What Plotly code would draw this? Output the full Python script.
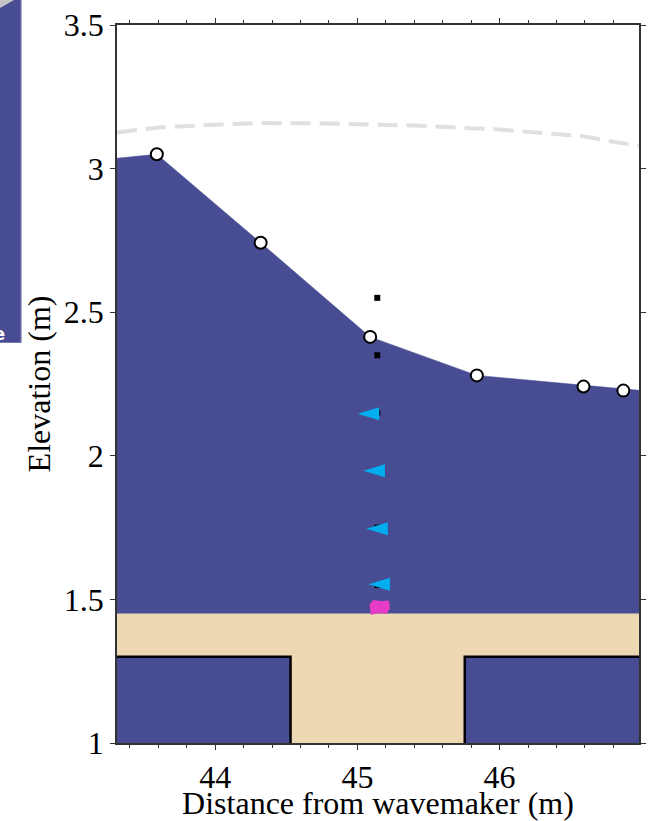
import plotly.graph_objects as go

# ---------------- data ----------------
x_range = [43.31, 46.98]
y_range = [1.0, 3.5]

# free-surface profile (water fill top)
surface_x = [43.31, 43.59, 44.32, 45.09, 45.84, 46.59, 46.98]
surface_y = [3.036, 3.05, 2.742, 2.414, 2.28, 2.245, 2.228]

# measured surface points (open circles)
circle_x = [43.59, 44.32, 45.09, 45.84, 46.59, 46.87]
circle_y = [3.05, 2.742, 2.414, 2.28, 2.241, 2.227]

# maximum envelope (dashed light grey)
envelope_x = [43.31, 43.6, 44.0, 44.3, 44.8, 45.4, 46.0, 46.4, 46.6, 46.8, 46.98]
envelope_y = [3.126, 3.143, 3.153, 3.159, 3.157, 3.150, 3.136, 3.120, 3.112, 3.093, 3.081]

# sensors (black squares)
sensor_x = [45.14, 45.14, 45.14, 45.14, 45.14, 45.14]
sensor_y = [2.55, 2.35, 2.15, 1.95, 1.75, 1.55]

# velocity probes (cyan left triangles)
probe_x = [45.08, 45.12, 45.14, 45.155]
probe_y = [2.146, 1.948, 1.746, 1.553]

# pressure sensor (magenta)
pressure_x = [45.155]
pressure_y = [1.472]

# sediment geometry
sand_top = 1.45
step_top = 1.30
trench_left = 44.53
trench_right = 45.755
bottom = 1.0

x_ticks = [44, 45, 46]
y_ticks = [1, 1.5, 2, 2.5, 3, 3.5]
y_tick_labels = ["1", "1.5", "2", "2.5", "3", "3.5"]

WATER = "#474C93"
SAND = "#EDD8B3"
CYAN = "#00AEEF"
PINK = "#E63CC6"
FONT = "Liberation Serif"

fig = go.Figure()

# water body
fig.add_trace(go.Scatter(
    x=surface_x + [x_range[1], x_range[0]],
    y=surface_y + [bottom, bottom],
    fill="toself", fillcolor=WATER, mode="lines",
    line=dict(color=WATER, width=0.5), hoverinfo="skip", showlegend=False))

# envelope
fig.add_trace(go.Scatter(
    x=envelope_x, y=envelope_y, mode="lines",
    line=dict(color="#E0E0E0", width=4, dash="20px,9px"),
    hoverinfo="skip", showlegend=False))

# sand T shape
sand_x = [x_range[0], x_range[1], x_range[1], trench_right, trench_right,
          trench_left, trench_left, x_range[0]]
sand_y = [sand_top, sand_top, step_top, step_top, bottom, bottom,
          step_top, step_top]
fig.add_trace(go.Scatter(
    x=sand_x, y=sand_y, fill="toself", fillcolor=SAND, mode="lines",
    line=dict(color=SAND, width=0.5), hoverinfo="skip", showlegend=False))

# black outlines of the trench
fig.add_trace(go.Scatter(
    x=[x_range[0], trench_left, trench_left], y=[step_top, step_top, bottom],
    mode="lines", line=dict(color="black", width=2.5),
    hoverinfo="skip", showlegend=False))
fig.add_trace(go.Scatter(
    x=[x_range[1], trench_right, trench_right], y=[step_top, step_top, bottom],
    mode="lines", line=dict(color="black", width=2.5),
    hoverinfo="skip", showlegend=False))

# circles
fig.add_trace(go.Scatter(
    x=circle_x, y=circle_y, mode="markers",
    marker=dict(symbol="circle", size=12, color="white",
                line=dict(color="black", width=2)),
    hoverinfo="skip", showlegend=False))

# sensors
fig.add_trace(go.Scatter(
    x=sensor_x, y=sensor_y, mode="markers",
    marker=dict(symbol="square", size=6, color="black"),
    hoverinfo="skip", showlegend=False))

shapes = []
# flattened triangles (pixel sized, anchored at data points)
for px, py in zip(probe_x, probe_y):
    shapes.append(dict(type="path", xref="x", yref="y",
                       xsizemode="pixel", ysizemode="pixel",
                       xanchor=px, yanchor=py,
                       path="M -11 0 L 10.5 6.5 L 10.5 -6.5 Z",
                       fillcolor=CYAN, line=dict(width=0)))
for px, py in zip(pressure_x, pressure_y):
    shapes.append(dict(type="path", xref="x", yref="y",
                       xsizemode="pixel", ysizemode="pixel",
                       xanchor=px, yanchor=py,
                       path="M -10 3 L -6 7.5 L 1 6.5 L 9.5 7 L 10.5 -1 L 7 -6.5 L -1 -5.5 L -8.5 -7.5 Z",
                       fillcolor=PINK, line=dict(width=0)))

# partial neighbouring panel at the left edge
L, W, T, H = 117, 529, 25, 723
def px2x(p):
    return (p - L) / W
def py2y(p):
    return (T + H - p) / H
shapes.append(dict(type="rect", xref="paper", yref="paper",
                   x0=px2x(-5), x1=px2x(20), y0=py2y(345), y1=py2y(-5),
                   fillcolor=WATER, line=dict(width=0), layer="above"))
shapes.append(dict(type="line", xref="paper", yref="paper",
                   x0=px2x(20), x1=px2x(20), y0=py2y(345), y1=py2y(-5),
                   line=dict(color="#A4A6D0", width=1.2), layer="above"))
shapes.append(dict(type="path", xref="paper", yref="paper",
                   path=f"M {px2x(-2)},{py2y(-2)} L {px2x(16)},{py2y(-2)} L {px2x(-2)},{py2y(8)} Z",
                   fillcolor="#C4C4C4", line=dict(width=0), layer="above"))

fig.update_layout(
    width=649, height=821,
    margin=dict(l=L, r=649 - L - W, t=T, b=821 - T - H),
    paper_bgcolor="white", plot_bgcolor="white",
    font=dict(family=FONT, size=32, color="black"),
    shapes=shapes,
    annotations=[dict(text="<b>e</b>", xref="paper", yref="paper",
                      x=px2x(-3), y=py2y(336), xanchor="center", yanchor="middle",
                      showarrow=False, font=dict(family="DejaVu Sans", size=18, color="white"))],
    xaxis=dict(range=x_range, tickmode="array", tickvals=x_ticks,
               ticks="outside", ticklen=5, tickwidth=1.2, tickcolor="#333",
               showline=True, linecolor="#333", linewidth=1.5, mirror="ticks",
               showgrid=False, zeroline=False,
               minor=dict(dtick=0.2, tick0=44, ticks="outside", ticklen=3,
                          tickwidth=1, tickcolor="#333", showgrid=False),
               title=dict(text="Distance from wavemaker (m)", standoff=0,
                          font=dict(family=FONT, size=32)),
               tickfont=dict(family=FONT, size=32)),
    yaxis=dict(range=y_range, tickmode="array", tickvals=y_ticks,
               ticktext=y_tick_labels,
               ticks="outside", ticklen=5, tickwidth=1.2, tickcolor="#333",
               showline=True, linecolor="#333", linewidth=1.5, mirror="ticks",
               showgrid=False, zeroline=False,
               title=dict(text="Elevation (m)", standoff=4,
                          font=dict(family=FONT, size=32)),
               tickfont=dict(family=FONT, size=32)),
)

fig.write_html(
    "out.html",
    config={"displayModeBar": False},
    post_script=(
        "document.documentElement.style.overflow='hidden';"
        "document.body.style.margin='0';document.body.style.padding='0';"
        "document.body.style.overflow='hidden';"
        "var d=document.getElementById('{plot_id}');"
        "d.style.position='fixed';d.style.left='0px';d.style.top='0px';"
    ),
)
